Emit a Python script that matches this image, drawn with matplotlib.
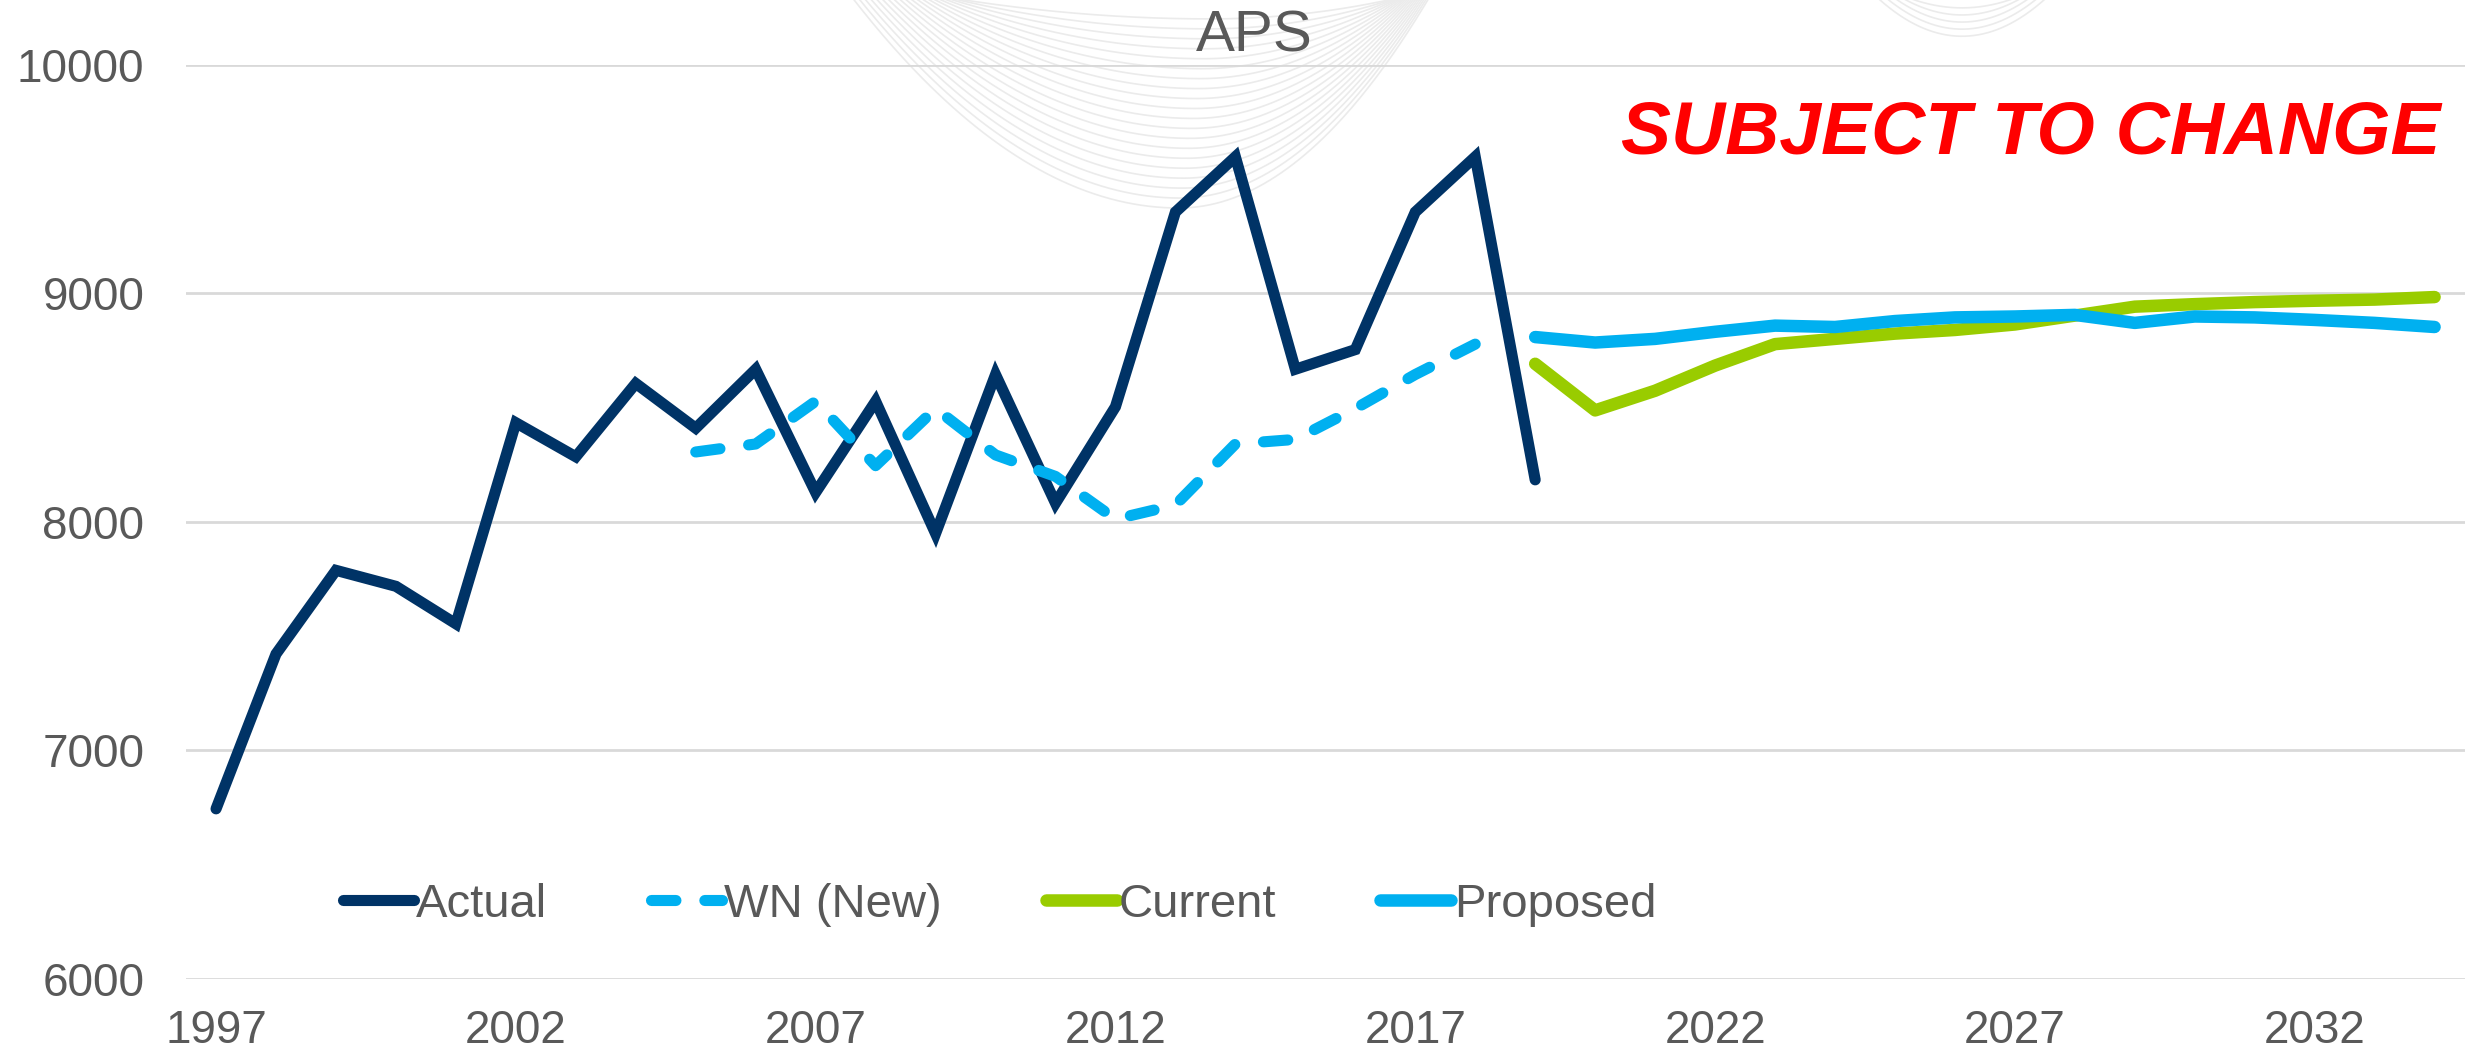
import numpy as np
import matplotlib.pyplot as plt

plt.rcParams['font.family'] = ['Liberation Sans', 'DejaVu Sans']

years_actual = list(range(1997, 2020))
actual = [6743, 7421, 7787, 7717, 7553, 8433, 8284, 8605, 8409, 8667, 8128, 8527,
          7948, 8644, 8081, 8503, 9355, 9597, 8667, 8753, 9355, 9597, 8183]

years_wn = list(range(2005, 2019))
wn_new = [8305, 8340, 8527, 8245, 8495, 8292, 8198, 8011, 8073, 8340,
          8360, 8495, 8644, 8777]

years_fc = list(range(2019, 2035))
current = [8691, 8487, 8573, 8683, 8777, 8800, 8823, 8839, 8863, 8902,
           8941, 8952, 8961, 8967, 8972, 8983]
proposed = [8808, 8784, 8800, 8831, 8858, 8852, 8878, 8894, 8898, 8905,
            8870, 8898, 8894, 8883, 8870, 8852]

xticks = list(range(1997, 2035, 5))
yticks = [6000, 7000, 8000, 9000, 10000]

grey = '#595959'
fig = plt.figure(figsize=(24.71, 10.59), dpi=100)

# faint decorative contour lines behind the chart (template artwork)
bg = fig.add_axes([0, 0, 1, 1], zorder=0)
bg.set_xlim(0, 1568)
bg.set_ylim(672, 0)
bg.axis('off')
u = np.linspace(-1.2, 1.2, 300)
for k in range(20):
    f = k / 19.0
    by = 132 - 120 * f
    xl = 542 + 70 * f
    xr = 906 - 25 * f
    xb = 748 + 20 * f
    xs = np.where(u < 0, xb + (xb - xl) * u, xb + (xr - xb) * u)
    bg.plot(xs, by * (1 - u ** 2), color='#ebebeb', lw=1.2)
for k in range(5):
    f = k / 4.0
    xs = 1245 + (52 - 22 * f) * u
    bg.plot(xs, (23 - 18 * f) * (1 - u ** 2), color='#ebebeb', lw=1.2)

ax = fig.add_axes([0.0753, 0.0759, 0.9221, 0.863], zorder=1)
ax.set_facecolor('none')

ax.plot(years_actual, actual, color='#003366', lw=8, label='Actual',
        solid_joinstyle='miter', solid_capstyle='round')
ax.plot(years_wn, wn_new, color='#00B0F0', lw=8, label='WN (New)',
        dashes=(2.2, 2.6), dash_capstyle='round')
ax.plot(years_fc, current, color='#99CC00', lw=9, label='Current',
        solid_capstyle='round')
ax.plot(years_fc, proposed, color='#00B0F0', lw=9, label='Proposed',
        solid_capstyle='round')

ax.set_xlim(1996.5, 2034.5)
ax.set_ylim(6000, 10000)
ax.set_xticks(xticks)
ax.set_yticks(yticks)
ax.tick_params(axis='both', length=0, labelsize=33, labelcolor=grey)
ax.tick_params(axis='y', pad=30)
ax.tick_params(axis='x', pad=22)
ax.yaxis.grid(True, color='#d9d9d9', lw=2)
ax.set_axisbelow(True)
for s in ax.spines.values():
    s.set_visible(False)

ax.legend(loc='center', bbox_to_anchor=(0.357, 0.081), ncol=4, frameon=False,
          fontsize=34, labelcolor=grey, handlelength=1.5, handletextpad=0.05,
          columnspacing=2.2)

fig.text(0.5075, 0.951, 'APS', ha='center', va='baseline', fontsize=42, color=grey)
fig.text(0.9875, 0.8546, 'SUBJECT TO CHANGE', ha='right', va='baseline', fontsize=54,
         color='#ff0000', fontweight='bold', fontstyle='italic')

fig.savefig('out.png', dpi=100)
